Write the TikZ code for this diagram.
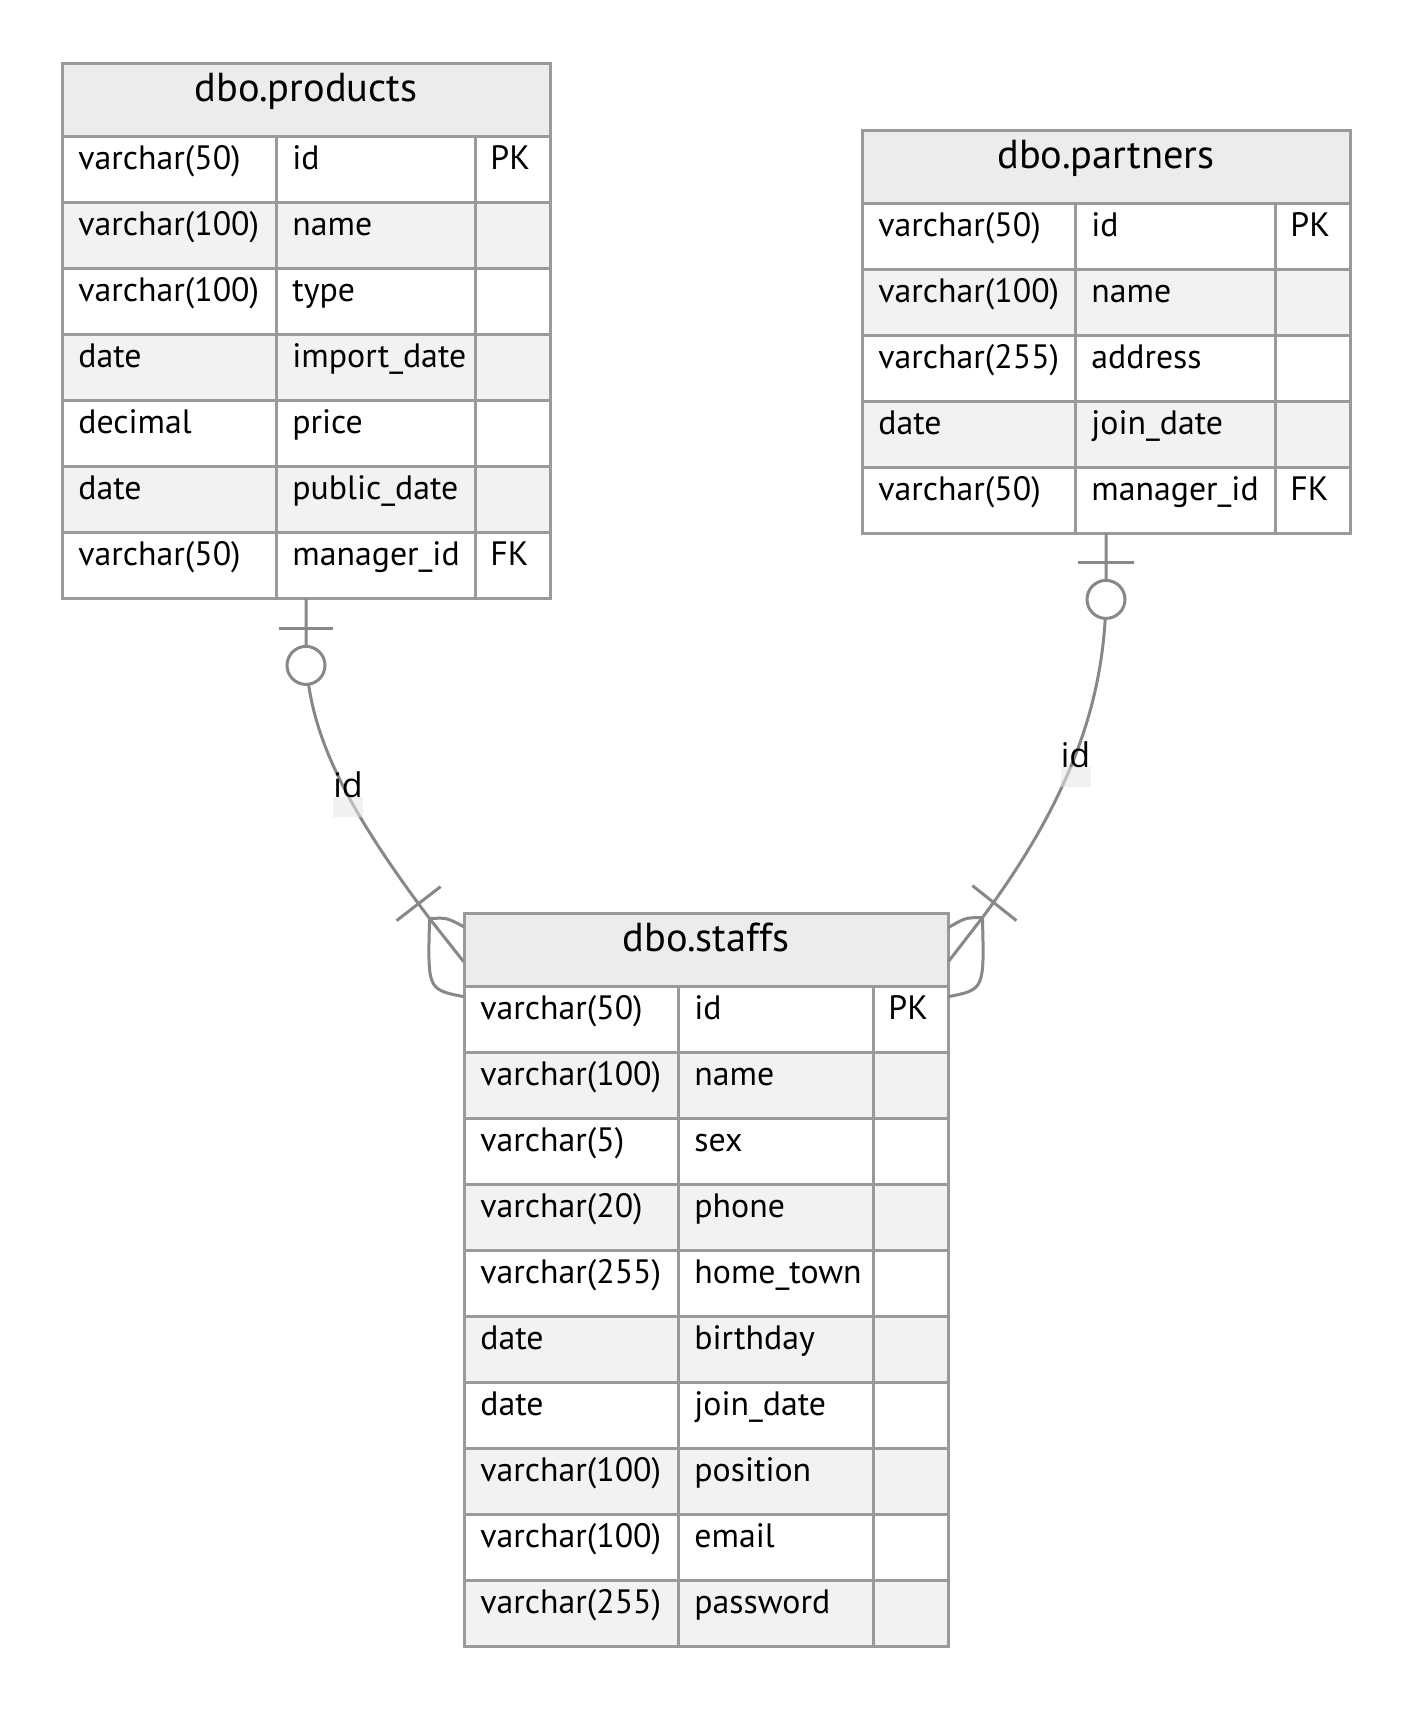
\documentclass[tikz,border=0pt]{standalone}
\usepackage{fontspec}
\setmainfont{PT Sans}
\newfontfamily\labelfont{Open Sans}
\usetikzlibrary{fit,calc}

\definecolor{gridline}{HTML}{9A9A9A}
\definecolor{headfill}{HTML}{ECECEC}
\definecolor{stripe}{HTML}{F2F2F2}
\definecolor{relline}{HTML}{888888}
\definecolor{labelbg}{HTML}{E6E6E6}

\tikzset{
  cell/.style={draw=gridline, line width=1.5pt},
  celltext/.style={anchor=base west, inner sep=0pt, font=\fontsize{16.9}{19}\selectfont},
  titletext/.style={anchor=base, inner sep=0pt, font=\fontsize{20.2}{23}\selectfont},
  rel/.style={draw=relline, line width=1.5pt},
  relbar/.style={draw=relline, line width=1.5pt},
  reltext/.style={anchor=base, inner sep=0pt, font=\labelfont\fontsize{17}{20}\selectfont},
  relbox/.style={fill=labelbg, fill opacity=0.55},
}

% ER entity: #1 name, #2 left, #3 top, #4-#6 column widths,
% #7 title, #8 number of rows, #9 rows as type/name/key
\newcommand\erdtable[9]{%
  \pgfmathsetmacro\xa{#2}%
  \pgfmathsetmacro\xb{#2+#4}%
  \pgfmathsetmacro\xc{#2+#4+#5}%
  \pgfmathsetmacro\xd{#2+#4+#5+#6}%
  \pgfmathsetmacro\ybot{#3+73+#8*66}%
  \coordinate (#1-nw) at (\xa,#3);
  \coordinate (#1-se) at (\xd,\ybot);
  \node[fit=(#1-nw)(#1-se), inner sep=0pt] (#1) {};
  % header
  \fill[headfill] (\xa,#3) rectangle (\xd,#3+73);
  \draw[cell] (\xa,#3) rectangle (\xd,#3+73);
  \node[titletext] (#1-title) at ({(\xa+\xd)/2},#3+38) {#7};
  % striped backgrounds
  \foreach \ty/\nm/\ky [count=\i] in {#9} {
    \pgfmathsetmacro\yt{#3+73+(\i-1)*66}
    \ifodd\i\relax\else\fill[stripe] (\xa,\yt) rectangle (\xd,\yt+66);\fi
  }
  % cell borders and texts
  \foreach \ty/\nm/\ky [count=\i] in {#9} {
    \pgfmathsetmacro\yt{#3+73+(\i-1)*66}
    \draw[cell] (\xa,\yt) rectangle (\xb,\yt+66)
                (\xb,\yt) rectangle (\xc,\yt+66)
                (\xc,\yt) rectangle (\xd,\yt+66);
    \node[celltext] (#1-\i-type) at (\xa+16,\yt+33) {\ty};
    \node[celltext] (#1-\i-name) at (\xb+16,\yt+33) {\nm};
    \node[celltext] (#1-\i-key)  at (\xc+15,\yt+33) {\ky};
  }
}

\begin{document}
\begin{tikzpicture}[x=0.5pt,y=-0.5pt]
\useasboundingbox[fill=white] (0,0) rectangle (1412,1709);

\erdtable{products}{62}{63}{214}{199}{75}{dbo.products}{7}{%
  varchar(50)/id/PK,
  varchar(100)/name/{},
  varchar(100)/type/{},
  date/import\_date/{},
  decimal/price/{},
  date/public\_date/{},
  varchar(50)/manager\_id/FK}

\erdtable{partners}{862}{130}{213}{200}{75}{dbo.partners}{5}{%
  varchar(50)/id/PK,
  varchar(100)/name/{},
  varchar(255)/address/{},
  date/join\_date/{},
  varchar(50)/manager\_id/FK}

\erdtable{staffs}{464}{913}{214}{195}{75}{dbo.staffs}{10}{%
  varchar(50)/id/PK,
  varchar(100)/name/{},
  varchar(5)/sex/{},
  varchar(20)/phone/{},
  varchar(255)/home\_town/{},
  date/birthday/{},
  date/join\_date/{},
  varchar(100)/position/{},
  varchar(100)/email/{},
  varchar(255)/password/{}}

% relationship ends at dbo.staffs (one or more)
\coordinate (staffs-tipL) at ($(staffs.north west)+(-34,6)$);
\coordinate (staffs-tipR) at ($(staffs.north east)+(34,5)$);

% products.manager_id -> staffs.id
\draw[rel] (products.south) -- ++(0,61)
  .. controls (310,730) and (340,800) .. (staffs-tipL);
\draw[relbar] ($(products.south)+(-27,30)$) -- ++(54,0);
\draw[rel, fill=white] ($(products.south)+(0,67)$) circle[radius=9.5pt];
\draw[relbar] ($(staffs-tipL)+(-33,2)$) -- ++(44,-34);
\draw[rel] (staffs-tipL) -- ($(staffs.north west)+(0,49)$);
\draw[rel] (staffs-tipL) .. controls ($(staffs-tipL)+(17,-1)$) .. ($(staffs.north west)+(0,14)$);
\draw[rel] (staffs-tipL) .. controls ($(staffs-tipL)+(-2,71)$) .. ($(staffs.north west)+(0,84)$);
\node[reltext] (lbl-products) at (348,797) {id};
\fill[relbox] ($(lbl-products.base)+(-15,0)$) rectangle ($(lbl-products.base)+(15,20)$);

% partners.manager_id -> staffs.id
\draw[rel] (partners.south) -- ++(0,67)
  .. controls (1104,680) and (1085,780) .. (staffs-tipR);
\draw[relbar] ($(partners.south)+(-28,29)$) -- ++(56,0);
\draw[rel, fill=white] ($(partners.south)+(0,66)$) circle[radius=9.5pt];
\draw[relbar] ($(staffs-tipR)+(-10,-32)$) -- ++(44,35);
\draw[rel] (staffs-tipR) -- ($(staffs.north east)+(0,49)$);
\draw[rel] (staffs-tipR) .. controls ($(staffs-tipR)+(-17,0)$) .. ($(staffs.north east)+(0,15)$);
\draw[rel] (staffs-tipR) .. controls ($(staffs-tipR)+(2,72)$) .. ($(staffs.north east)+(0,84)$);
\node[reltext] (lbl-partners) at (1075.5,767) {id};
\fill[relbox] ($(lbl-partners.base)+(-15,0)$) rectangle ($(lbl-partners.base)+(15,20)$);
\end{tikzpicture}
\end{document}
